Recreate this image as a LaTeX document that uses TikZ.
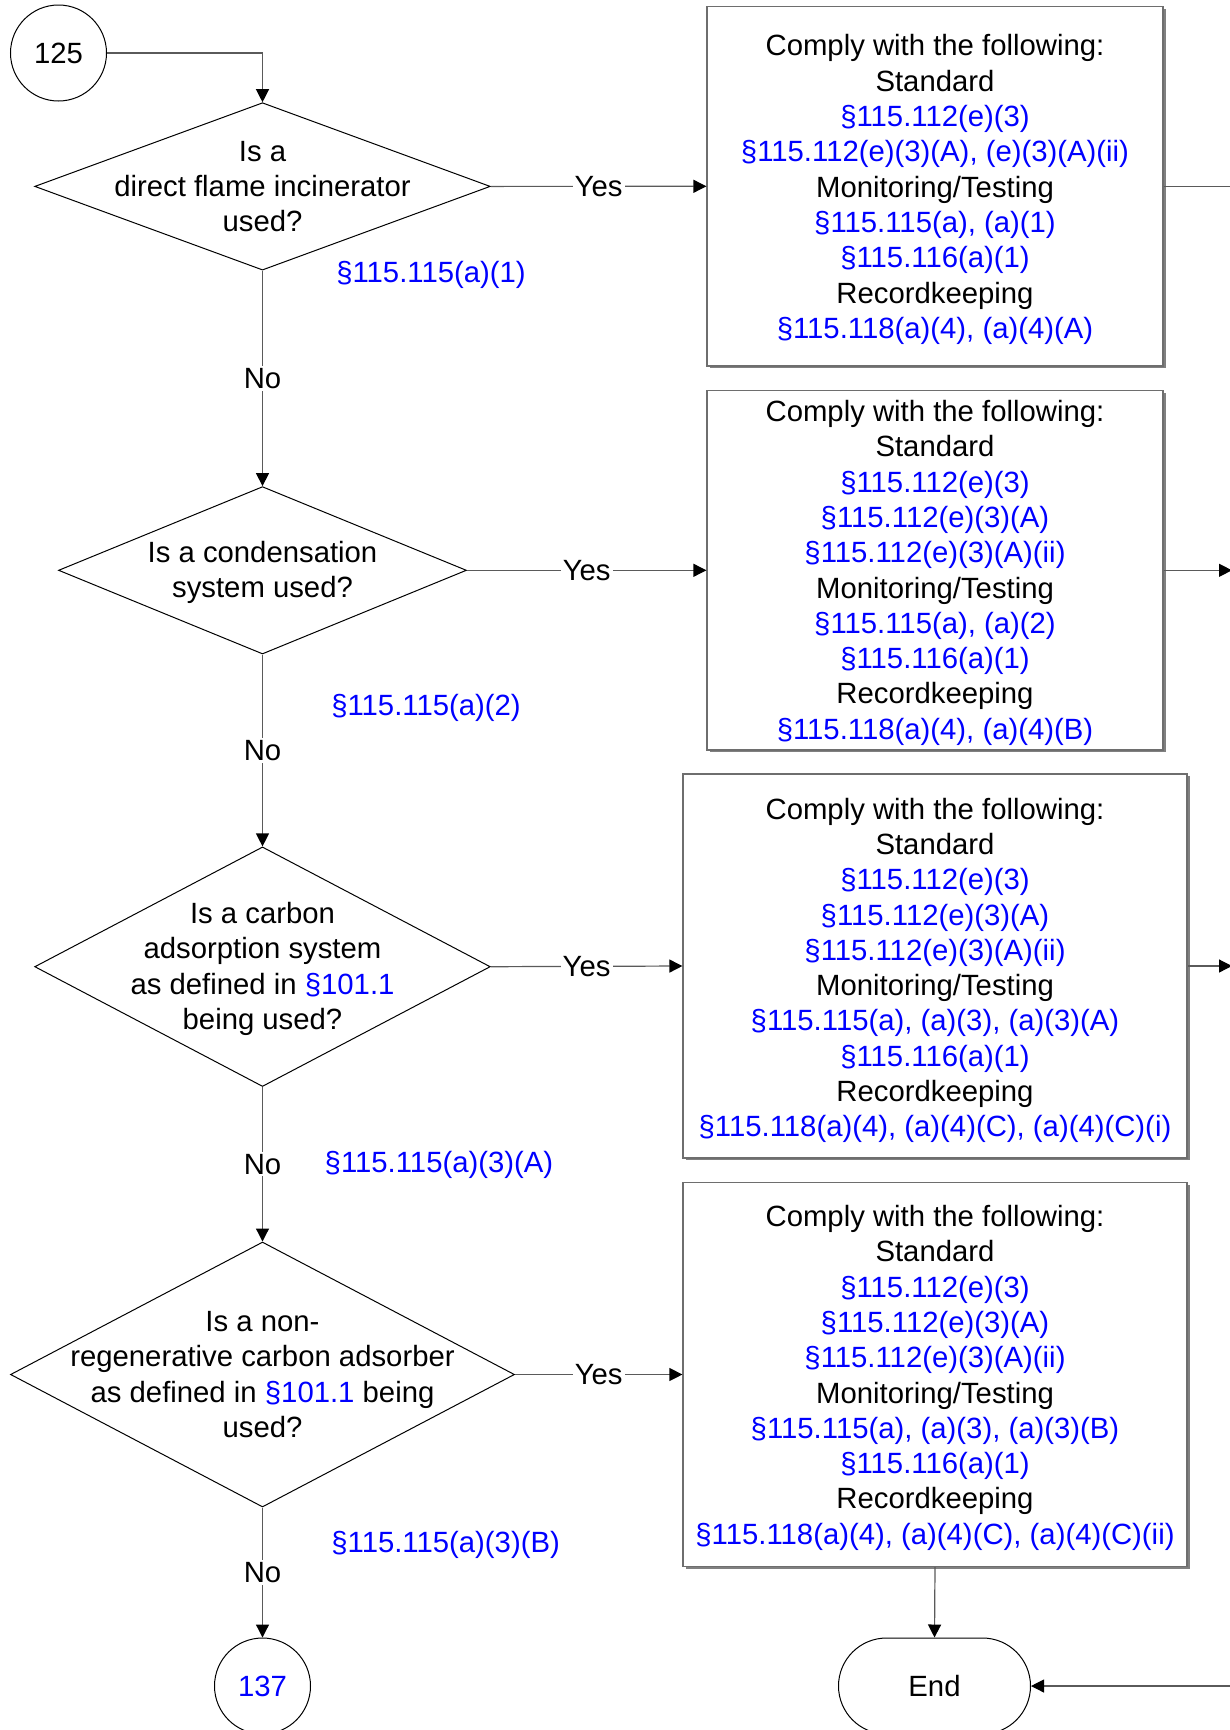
\documentclass[tikz,border=0pt]{standalone}
\usepackage{fontspec}
\setmainfont{Liberation Sans}
\usetikzlibrary{shapes.geometric,arrows.meta}
\definecolor{refblue}{RGB}{0,0,255}
\definecolor{linegray}{RGB}{90,90,90}
\definecolor{boxgray}{RGB}{110,110,110}
\begin{document}
\begin{tikzpicture}[x=0.5pt,y=-0.5pt,
  every node/.style={font=\fontsize{14.65}{17.65}\selectfont},
  conn/.style={draw=linegray,line width=0.6pt},
  arr/.style={conn,-{Triangle[length=6.5pt,width=6.5pt,color=black]}},
  decision/.style={shape=diamond,draw=black,line width=0.5pt,inner sep=0pt,fill=white},
  txt/.style={align=center,inner sep=0pt},
  ruleref/.style={text=refblue,inner sep=1pt},
  actbox/.style={shape=rectangle,draw=boxgray,line width=0.6pt,fill=white,inner sep=0pt,
    minimum width=#1,
    preaction={draw=none,fill=gray,transform canvas={xshift=1.5pt,yshift=-1pt}}},
  lbl/.style={fill=white,inner sep=1pt},
  term/.style={draw=black,line width=0.5pt,circle,minimum size=48pt,inner sep=0pt},
]
\useasboundingbox (0,0) rectangle (1230,1730);
\clip (0,0) rectangle (1230,1730);
\fill[white] (0,0) rectangle (1230,1730);

% terminals
\node[term] (c125) at (58.5,53) {125};
\node[term,text=refblue] (c137) at (262.5,1686) {137};
\node[draw=black,line width=0.5pt,rounded corners=24pt,minimum width=96pt,minimum height=48pt,inner sep=0pt] (endn) at (934.5,1686) {End};

% decisions
\node[decision,minimum width=227.8pt,minimum height=83.7pt] (d1) at (262.5,186.4) {};
\node[txt] (d1t) at (262.5,186.4) {Is a\\direct flame incinerator\\used?};
\node[decision,minimum width=204pt,minimum height=83.7pt] (d2) at (262.5,570.3) {};
\node[txt] (d2t) at (262.5,572.5) {Is a condensation\\system used?};
\node[decision,minimum width=227.8pt,minimum height=119.8pt] (d3) at (262.5,966.7) {};
\node[txt] (d3t) at (262.5,968.9) {Is a carbon\\adsorption system\\as defined in \textcolor{refblue}{§101.1}\\being used?};
\node[decision,minimum width=252pt,minimum height=132.5pt] (d4) at (262.5,1374.5) {};
\node[txt] (d4t) at (262.5,1374.5) {Is a non-\\regenerative carbon adsorber\\as defined in \textcolor{refblue}{§101.1} being\\used?};

% action boxes
\node[actbox=228pt,minimum height=179.7pt] (b1) at (935,186.3) {};
\node[txt] (b1t) at (935,189.6) {Comply with the following:\\Standard\\
\textcolor{refblue}{§115.112(e)(3)}\\
\textcolor{refblue}{§115.112(e)(3)(A), (e)(3)(A)(ii)}\\
Monitoring/Testing\\
\textcolor{refblue}{§115.115(a), (a)(1)}\\
\textcolor{refblue}{§115.116(a)(1)}\\
Recordkeeping\\
\textcolor{refblue}{§115.118(a)(4), (a)(4)(A)}};
\node[actbox=228pt,minimum height=179.7pt] (b2) at (935,570.3) {};
\node[txt] (b2t) at (935,572.8) {Comply with the following:\\Standard\\
\textcolor{refblue}{§115.112(e)(3)}\\
\textcolor{refblue}{§115.112(e)(3)(A)}\\
\textcolor{refblue}{§115.112(e)(3)(A)(ii)}\\
Monitoring/Testing\\
\textcolor{refblue}{§115.115(a), (a)(2)}\\
\textcolor{refblue}{§115.116(a)(1)}\\
Recordkeeping\\
\textcolor{refblue}{§115.118(a)(4), (a)(4)(B)}};
\node[actbox=252pt,minimum height=192pt] (b3) at (935,966) {};
\node[txt] (b3t) at (935,970.4) {Comply with the following:\\Standard\\
\textcolor{refblue}{§115.112(e)(3)}\\
\textcolor{refblue}{§115.112(e)(3)(A)}\\
\textcolor{refblue}{§115.112(e)(3)(A)(ii)}\\
Monitoring/Testing\\
\textcolor{refblue}{§115.115(a), (a)(3), (a)(3)(A)}\\
\textcolor{refblue}{§115.116(a)(1)}\\
Recordkeeping\\
\textcolor{refblue}{§115.118(a)(4), (a)(4)(C), (a)(4)(C)(i)}};
\node[actbox=252pt,minimum height=192pt] (b4) at (935,1374.5) {};
\node[txt] (b4t) at (935,1377.8) {Comply with the following:\\Standard\\
\textcolor{refblue}{§115.112(e)(3)}\\
\textcolor{refblue}{§115.112(e)(3)(A)}\\
\textcolor{refblue}{§115.112(e)(3)(A)(ii)}\\
Monitoring/Testing\\
\textcolor{refblue}{§115.115(a), (a)(3), (a)(3)(B)}\\
\textcolor{refblue}{§115.116(a)(1)}\\
Recordkeeping\\
\textcolor{refblue}{§115.118(a)(4), (a)(4)(C), (a)(4)(C)(ii)}};

% side references
\node[ruleref] (r1) at (431,275.3) {§115.115(a)(1)};
\node[ruleref] (r2) at (426,707.8) {§115.115(a)(2)};
\node[ruleref] (r3) at (439,1164.4) {§115.115(a)(3)(A)};
\node[ruleref] (r4) at (445.6,1545) {§115.115(a)(3)(B)};

% off-page coordinates (right edge)
\coordinate (o1) at (1232,186.3);
\coordinate (o2) at (1232,570.3);
\coordinate (o3) at (1232,966);
\coordinate (o4) at (1232,1686);

% connectors
\draw[arr] (c125.east) -| (d1.north);
\draw[arr] (d1.east) -- node[lbl] {Yes} (b1.west);
\draw[arr] (d1.south) -- node[lbl] {No} (d2.north);
\draw[arr] (d2.east) -- node[lbl] {Yes} (b2.west);
\draw[arr] (d2.south) -- node[lbl] {No} (d3.north);
\draw[arr] (d3.east) -- node[lbl] {Yes} (b3.west);
\draw[arr] (d3.south) -- node[lbl] {No} (d4.north);
\draw[arr] (d4.east) -- node[lbl] {Yes} (b4.west);
\draw[arr] (d4.south) -- node[lbl] {No} (c137.north);
\draw[arr] (b4.south) -- (endn.north);
\draw[conn] (b1.east) -- (o1);
\draw[arr] (b2.east) -- (o2);
\draw[arr] (b3.east) -- (o3);
\draw[arr] (o4) -- (endn.east);
\end{tikzpicture}
\end{document}
